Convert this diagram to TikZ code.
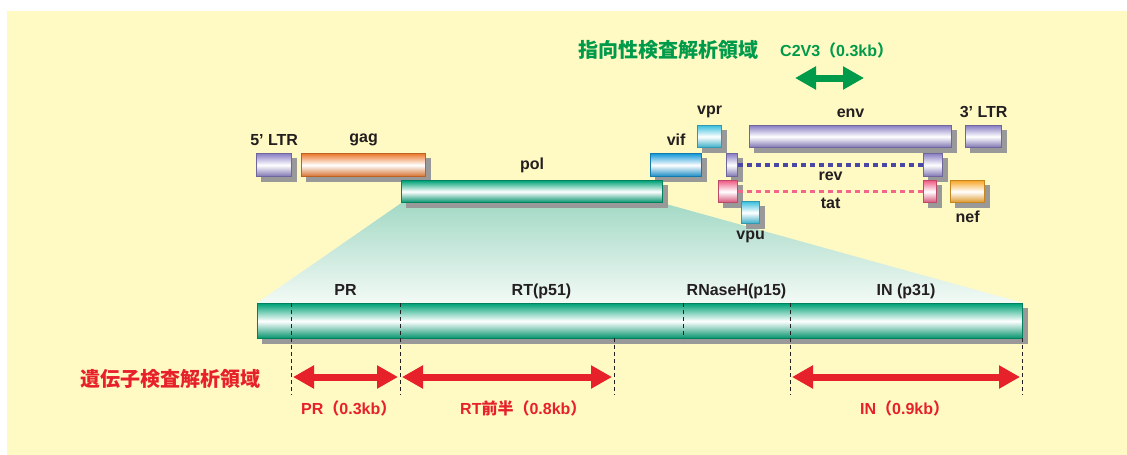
\documentclass[tikz,border=0pt]{standalone}
\usepackage{fontspec}
\usepackage{xcolor}
\usepackage{tikz}
\setmainfont{Liberation Sans}
\newfontfamily\cjk{Noto Sans CJK JP}
\usetikzlibrary{positioning,arrows.meta,calc}

\definecolor{bgyellow}{HTML}{FFF9C4}
\definecolor{labtext}{HTML}{231F20}
\definecolor{ltrpurple}{HTML}{8A80C4}
\definecolor{gagorange}{HTML}{EC7A2E}
\definecolor{polgreen}{HTML}{00A277}
\definecolor{vifblue}{HTML}{1799D8}
\definecolor{vprcyan}{HTML}{3DC0DE}
\definecolor{tatpink}{HTML}{EE5C85}
\definecolor{nefgold}{HTML}{F6A629}
\definecolor{revdot}{HTML}{4A48A4}
\definecolor{tatdot}{HTML}{F2668C}
\definecolor{fantop}{HTML}{A4D9C6}
\definecolor{fanbot}{HTML}{F3FAF6}
\definecolor{jred}{HTML}{E62129}
\definecolor{jgreen}{HTML}{009B4A}
\definecolor{shadowgray}{HTML}{999999}

\newcommand\jpf[1]{{\cjk #1}}

\pgfdeclarelayer{paper}
\pgfdeclarelayer{fan}
\pgfdeclarelayer{dropped}
\pgfsetlayers{paper,fan,dropped,main}

\tikzset{
  gene/.style={draw=#1!80!black, line width=1.2pt, top color=#1, bottom color=#1!90!black,
    middle color=white, inner sep=0pt, anchor=north west},
  genelab/.style={font=\bfseries\fontsize{16}{18}\selectfont, text=labtext, inner sep=1pt},
  seglab/.style={genelab, text height=12pt, text depth=4pt},
  splice/.style={line width=3.5pt, dash pattern=on 5pt off 4pt, #1},
  cut/.style={dash pattern=on 4pt off 3pt, line width=0.9pt, labtext},
  span/.style={line width=7pt, {Triangle[length=21pt,width=22pt]}-{Triangle[length=21pt,width=22pt]}, #1},
  jtitle/.style={font=\cjk\bfseries\fontsize{20}{24}\selectfont, inner sep=0pt, anchor=west},
  jlab/.style={font=\bfseries\fontsize{16}{19}\selectfont, inner sep=0pt, anchor=base west}
}

\begin{document}
\begin{tikzpicture}[x=1pt, y=-1pt]
  \useasboundingbox (0,0) rectangle (1127,455);
  \begin{pgfonlayer}{paper}
    \fill[bgyellow] (7,11) rectangle (1127,455);
  \end{pgfonlayer}

  \node[gene=ltrpurple, minimum width=35pt, minimum height=23pt] (ltr5) at (256,153) {};
  \node[gene=gagorange, minimum width=124pt, minimum height=23pt] (gag) at (301,153) {};
  \node[gene=polgreen, minimum width=261pt, minimum height=22pt] (pol) at (401,180) {};
  \node[gene=vifblue, minimum width=51pt, minimum height=23pt] (vif) at (650,153) {};
  \node[gene=vprcyan, minimum width=24pt, minimum height=22pt] (vpr) at (697,125) {};
  \node[gene=ltrpurple, minimum width=202pt, minimum height=22pt] (env) at (749,125) {};
  \node[gene=ltrpurple, minimum width=36pt, minimum height=22pt] (ltr3) at (965,125) {};
  \node[gene=ltrpurple, minimum width=11pt, minimum height=23pt] (revl) at (726,153) {};
  \node[gene=ltrpurple, minimum width=19pt, minimum height=23pt] (revr) at (923,153) {};
  \node[gene=tatpink, minimum width=19pt, minimum height=22pt] (tatl) at (718,180) {};
  \node[gene=tatpink, minimum width=13pt, minimum height=22pt] (tatr) at (923,180) {};
  \node[gene=vprcyan, minimum width=18pt, minimum height=22pt] (vpu) at (741,201) {};
  \node[gene=nefgold, minimum width=34pt, minimum height=22pt] (nef) at (950,180) {};

  \node[genelab, above=6pt of ltr5] (ltr5lab) {5’ LTR};
  \node[genelab, above=6pt of gag] (gaglab) {gag};
  \node[genelab, above=6pt of pol] (pollab) {pol};
  \node[genelab, above=6pt of vif] (viflab) {vif};
  \node[genelab, above=6pt of vpr] (vprlab) {vpr};
  \node[genelab, above=6pt of env] (envlab) {env};
  \node[genelab, above=6pt of ltr3] (ltr3lab) {3’ LTR};
  \node[genelab, below=5pt of vpu] (vpulab) {vpu};
  \node[genelab, below=7pt of nef] (neflab) {nef};

  \draw[splice=revdot] (revl) -- node[genelab, below=4pt] (revlab) {rev} (revr);
  \draw[splice=tatdot] (tatl) -- node[genelab, below=4pt] (tatlab) {tat} (tatr);

  \node[gene=polgreen, minimum width=765pt, minimum height=35pt] (polbig) at (257,303) {};

  \begin{pgfonlayer}{fan}
    \shade[top color=fantop, bottom color=fanbot] (pol.south west) -- (pol.south east)
      -- (polbig.north east) -- (polbig.north west) -- cycle;
  \end{pgfonlayer}
  \begin{pgfonlayer}{dropped}
    \foreach \n in {ltr5,gag,pol,vif,vpr,env,ltr3,revl,revr,tatl,tatr,vpu,nef,polbig}
      \fill[shadowgray] ($(\n.north west)+(5,5)$) rectangle ($(\n.south east)+(5,5)$);
  \end{pgfonlayer}

  \foreach \n/\x in {d1/291, d2/400, d3/614, d4/683, d5/790, d6/1022}
    \coordinate (\n) at (\x,303);
  \foreach \n in {d1,d2,d4,d5}
    \draw[cut] (\n) -- ++(0,35);
  \foreach \n in {d1,d2,d3,d5,d6}
    \draw[cut] (\n) ++(0,35) -- ++(0,57);

  \node[seglab, above=2pt] (prlab) at ($(d1)!.5!(d2)$) {PR};
  \node[seglab, above=2pt] (rtlab) at ($(d2)!.5!(d4)$) {RT(p51)};
  \node[seglab, above=2pt] (rnlab) at ($(d4)!.5!(d5)$) {RNaseH(p15)};
  \node[seglab, above=2pt] (inlab) at ($(d5)!.5!(d6)$) {IN (p31)};

  \foreach \n/\x in {r1/293, r2/398, r3/402, r4/612, r5/792, r6/1020}
    \coordinate (\n) at (\x,377);
  \draw[span=jred] (r1) -- (r2);
  \draw[span=jred] (r3) -- (r4);
  \draw[span=jred] (r5) -- (r6);

  \node[jtitle, text=jred] (genetitle) at (80,379) {遺伝子検査解析領域};
  \node[jlab, text=jred] (prspan) at (301,414) {PR\jpf{（}0.3kb\jpf{）}};
  \node[jlab, text=jred] (rtspan) at (460,414) {RT\jpf{前半（}0.8kb\jpf{）}};
  \node[jlab, text=jred] (inspan) at (860,414) {IN\jpf{（}0.9kb\jpf{）}};

  \node[jtitle, text=jgreen] (dirtitle) at (578,50) {指向性検査解析領域};
  \node[jlab, text=jgreen, anchor=west] (c2v3) at (780,50) {C2V3\jpf{（}0.3kb\jpf{）}};
  \coordinate (g1) at (795,78);
  \coordinate (g2) at (864,78);
  \draw[span=jgreen] (g1) -- (g2);
\end{tikzpicture}
\end{document}
